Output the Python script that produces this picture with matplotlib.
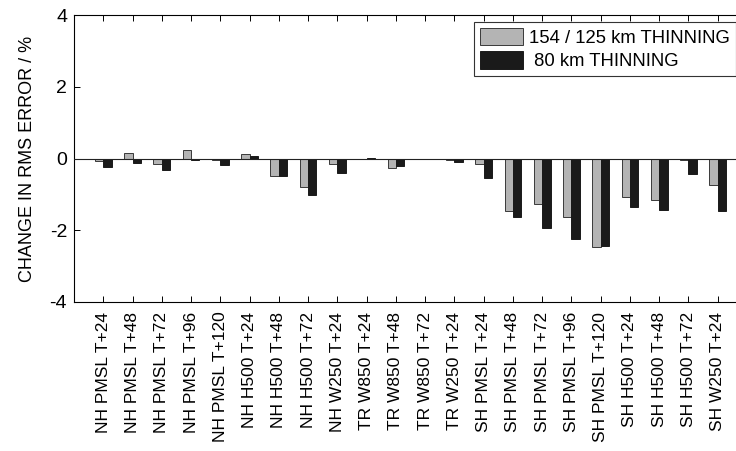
import numpy as np
import matplotlib
matplotlib.use("Agg")
import matplotlib.pyplot as plt

plt.rcParams["font.family"] = ["Liberation Sans", "DejaVu Sans"]
plt.rcParams["axes.unicode_minus"] = False

CATEGORIES = [
    "NH PMSL T+24", "NH PMSL T+48", "NH PMSL T+72", "NH PMSL T+96", "NH PMSL T+120",
    "NH H500 T+24", "NH H500 T+48", "NH H500 T+72", "NH W250 T+24",
    "TR W850 T+24", "TR W850 T+48", "TR W850 T+72", "TR W250 T+24",
    "SH PMSL T+24", "SH PMSL T+48", "SH PMSL T+72", "SH PMSL T+96", "SH PMSL T+120",
    "SH H500 T+24", "SH H500 T+48", "SH H500 T+72", "SH W250 T+24",
]
THIN_154 = [-0.07, 0.14, -0.16, 0.25, -0.03, 0.13, -0.48, -0.80, -0.16,
            0.00, -0.27, 0.00, -0.03,
            -0.16, -1.45, -1.28, -1.63, -2.47, -1.06, -1.15, -0.05, -0.74]
THIN_80 = [-0.23, -0.13, -0.33, -0.03, -0.17, 0.065, -0.48, -1.03, -0.41,
           0.02, -0.21, -0.02, -0.11,
           -0.53, -1.62, -1.93, -2.25, -2.43, -1.35, -1.43, -0.44, -1.45]
LABELS = ["154 / 125 km THINNING", " 80 km THINNING"]

fig = plt.figure(figsize=(7.36, 4.51), dpi=100)
ax = fig.add_axes([74 / 736, 149 / 451, 673 / 736, 287 / 451])

x = np.arange(len(CATEGORIES))
w = 0.285
ax.bar(x - w / 2, THIN_154, w, color="#b4b4b4", edgecolor="#3a3a3a",
       linewidth=0.7, label=LABELS[0], zorder=2)
ax.bar(x + w / 2, THIN_80, w, color="#1a1a1a", edgecolor="#1a1a1a",
       linewidth=0.7, label=LABELS[1], zorder=2)
ax.axhline(0, color="#222222", linewidth=0.8, zorder=3)

ax.set_xlim(-1, 22)
ax.set_ylim(-4, 4)
ax.set_yticks([-4, -2, 0, 2, 4])
ax.set_xticks(x)
ax.set_xticklabels(CATEGORIES, rotation=90, fontsize=12.5)
ax.tick_params(axis="x", direction="in", top=True, bottom=True,
               length=4, width=0.7, pad=7)
ax.tick_params(axis="y", direction="in", left=True, right=False,
               length=4, width=0.7, labelsize=14, pad=5)
for s in ax.spines.values():
    s.set_linewidth(0.8)
ax.set_ylabel("CHANGE IN RMS ERROR / %", fontsize=13, labelpad=10)

leg = ax.legend(loc="upper left", bbox_to_anchor=(474 / 736, 1 - 22 / 451),
                bbox_transform=fig.transFigure, fontsize=13.3, frameon=True,
                fancybox=False, handlelength=2.35, handleheight=1.1,
                handletextpad=0.35, borderpad=0.3, labelspacing=0.25,
                borderaxespad=0)
leg.get_frame().set_edgecolor("#333333")
leg.get_frame().set_linewidth(0.8)
leg.get_frame().set_alpha(1)

fig.savefig("out.png", dpi=100)
